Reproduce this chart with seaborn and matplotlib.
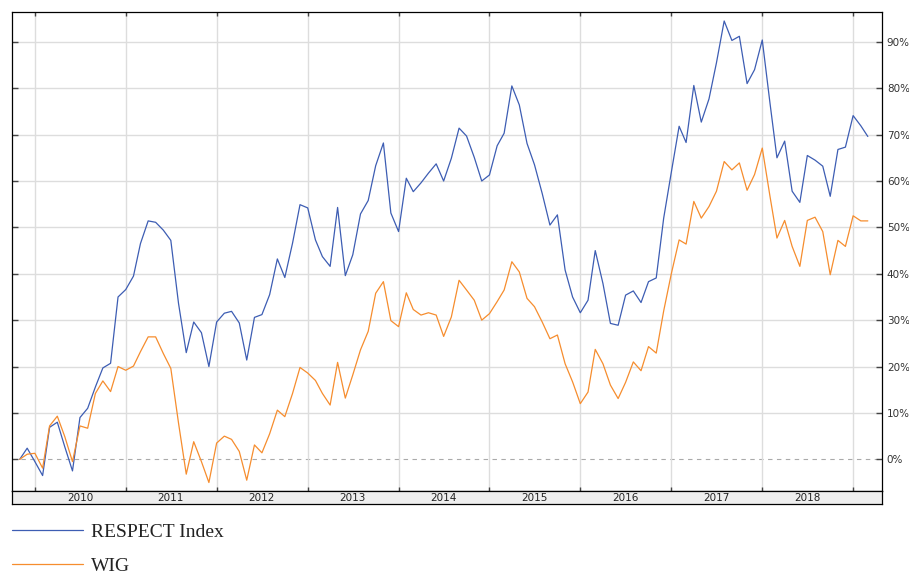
import pandas as pd
import numpy as np
import matplotlib
matplotlib.use("Agg")
import matplotlib.pyplot as plt
import matplotlib.dates as mdates
from matplotlib.ticker import PercentFormatter
import seaborn as sns

# monthly cumulative returns (%), Nov 2009 - Mar 2019
dates = pd.date_range("2009-11-01", "2019-03-01", freq="MS")
respect = [0, 2.4, -0.5, -3.5, 6.9, 8.0, 2.7, -2.5, 9.0, 11.0, 15.6, 19.7, 20.7, 35.0,
           36.6, 39.5, 46.5, 51.4, 51.1, 49.4, 47.2, 33.6, 23.0, 29.6, 27.3, 20.0,
           29.6, 31.5, 31.9, 29.4, 21.4, 30.6, 31.2, 35.5, 43.2, 39.2, 46.6, 54.9,
           54.2, 47.3, 43.7, 41.6, 54.3, 39.6, 44.1, 52.9, 55.8, 63.3, 68.2, 53.1,
           49.1, 60.6, 57.7, 59.6, 61.7, 63.7, 60.0, 64.9, 71.4, 69.7, 65.1, 60.0,
           61.3, 67.6, 70.3, 80.5, 76.4, 68.1, 63.5, 57.3, 50.5, 52.7, 40.8, 35.0,
           31.6, 34.3, 45.0, 37.9, 29.3, 28.9, 35.4, 36.3, 33.8, 38.3, 39.1, 52.0,
           62.0, 71.8, 68.3, 80.6, 72.7, 77.7, 85.5, 94.5, 90.3, 91.2, 81.0, 84.0,
           90.4, 76.8, 65.0, 68.6, 57.8, 55.4, 65.5, 64.5, 63.2, 56.7, 66.8, 67.3,
           74.1, 71.9, 69.6]
wig = [0, 1.1, 1.3, -1.9, 7.2, 9.3, 4.9, -0.5, 7.2, 6.7, 14.2, 16.9, 14.6, 20.0,
       19.2, 20.1, 23.2, 26.4, 26.4, 22.8, 19.6, 7.8, -3.2, 3.8, -0.5, -5.0,
       3.5, 5.0, 4.3, 1.7, -4.5, 3.1, 1.4, 5.5, 10.6, 9.2, 14.2, 19.8,
       18.6, 17.0, 14.2, 11.7, 20.9, 13.2, 18.2, 23.6, 27.6, 35.8, 38.3, 29.9,
       28.6, 35.9, 32.3, 31.1, 31.6, 31.1, 26.5, 30.7, 38.6, 36.5, 34.3, 30.0,
       31.4, 34.0, 36.5, 42.6, 40.4, 34.7, 32.9, 29.6, 26.0, 26.8, 20.6, 16.7,
       12.0, 14.5, 23.7, 20.6, 16.0, 13.1, 16.6, 21.0, 19.1, 24.3, 22.9, 32.0,
       40.1, 47.3, 46.4, 55.6, 52.0, 54.5, 57.8, 64.2, 62.4, 63.9, 58.0, 61.4,
       67.1, 56.7, 47.7, 51.5, 45.9, 41.6, 51.5, 52.2, 49.1, 39.8, 47.2, 45.9,
       52.5, 51.4, 51.4]
series_names = ["RESPECT Index", "WIG"]
years = list(range(2010, 2019))
y_ticks = [0, 10, 20, 30, 40, 50, 60, 70, 80, 90]

df = pd.DataFrame({"date": dates, "RESPECT Index": respect, "WIG": wig})
long = df.melt(id_vars="date", var_name="series", value_name="ret")

sns.set_style("white")
plt.rcParams["font.family"] = ["DejaVu Sans"]

W, H = 909, 574
x0, x1 = pd.Timestamp("2009-09-29"), pd.Timestamp("2019-04-27")
fig = plt.figure(figsize=(W / 100, H / 100), dpi=100)
ax = fig.add_axes([11.5 / W, 1 - 491 / H, 870.5 / W, 479.3 / H])
strip = fig.add_axes([11.5 / W, 1 - 504 / H, 870.5 / W, 13 / H])

palette = {"RESPECT Index": "#3d5db3", "WIG": "#f68d2e"}
sns.lineplot(data=long, x="date", y="ret", hue="series", hue_order=series_names,
             palette=palette, linewidth=0.9, ax=ax, legend=False)

ax.set_xlim(x0, x1)
ax.set_ylim(-6.83, 96.5)
ax.set_xlabel("")
ax.set_ylabel("")

# grid
for v in y_ticks[1:]:
    ax.axhline(v, color="#dddddd", linewidth=1, zorder=0)
ax.axhline(0, color="#aaaaaa", linewidth=0.8, linestyle=(0, (4, 4)), zorder=0)
year_starts = [pd.Timestamp(f"{y}-01-01") for y in years + [2019]]
ax.set_xticks(year_starts)
ax.set_xticklabels([])
ax.xaxis.grid(True, color="#dddddd", linewidth=1)
ax.set_axisbelow(True)
ax.tick_params(axis="x", which="major", direction="in", length=3, width=1,
               color="#444444", top=True, bottom=True, labelbottom=False)

ax.set_yticks(y_ticks)
ax.yaxis.set_major_formatter(PercentFormatter(xmax=100, decimals=0))
ax.yaxis.tick_right()
ax.tick_params(axis="y", direction="in", length=4, width=1, color="#444444",
               left=True, right=True, labelleft=False, labelright=True,
               labelsize=7.5, labelcolor="#333333", pad=3.5)
for s in ax.spines.values():
    s.set_color("black")
    s.set_linewidth(0.9)

# year strip below the plot
strip.set_facecolor("#eeeeee")
strip.set_xlim(x0, x1)
strip.set_ylim(0, 1)
strip.set_yticks([])
mid_years = [pd.Timestamp(f"{y}-07-01") for y in years]
strip.set_xticks(mid_years)
strip.set_xticklabels([str(y) for y in years])
strip.tick_params(axis="x", length=0, labelsize=7.5, labelcolor="#222222", pad=-7.8)
for s in strip.spines.values():
    s.set_color("black")
    s.set_linewidth(0.9)

handles = [plt.Line2D([], [], color=palette[n], linewidth=0.9) for n in series_names]
fig.legend(handles, series_names, loc="upper left",
           bbox_to_anchor=(12 / W, 1 - 523 / H), frameon=False,
           prop={"family": "Liberation Serif", "size": 14},
           handlelength=3.66, handletextpad=0.4, borderpad=0, borderaxespad=0,
           labelspacing=0.86, labelcolor="#222222")

fig.savefig("out.png", dpi=100)
